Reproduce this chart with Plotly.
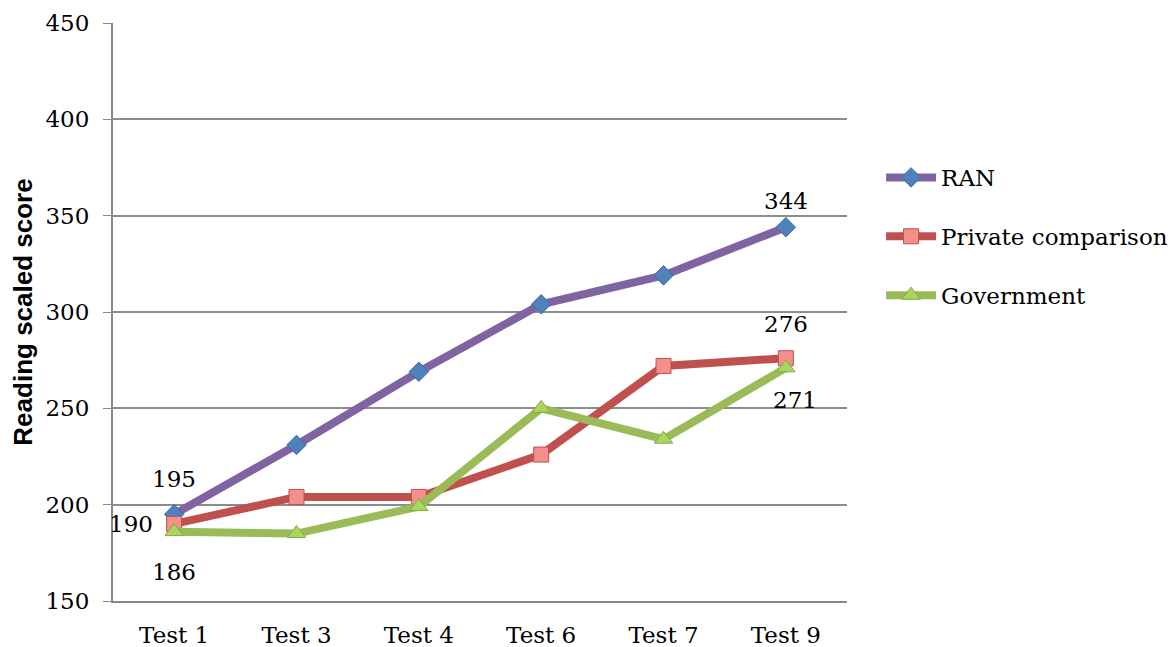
import plotly.graph_objects as go

tests = ["Test 1", "Test 3", "Test 4", "Test 6", "Test 7", "Test 9"]
ran = [195, 231, 269, 304, 319, 344]
private = [190, 204, 204, 226, 272, 276]
government = [186, 185, 199, 250, 234, 271]

serif = "DejaVu Serif, serif"

fig = go.Figure()
fig.add_trace(
    go.Scatter(
        x=tests, y=ran, name="RAN", legendgroup="ran",
        mode="lines+markers",
        line={"color": "#8064A2", "width": 8},
        marker={"symbol": "diamond", "size": 15, "color": "#4F81BD",
                "line": {"color": "#3A6AA8", "width": 1}},
    )
)
fig.add_trace(
    go.Scatter(
        x=tests, y=private, name="Private comparison", legendgroup="private",
        mode="lines+markers",
        line={"color": "#C0504D", "width": 8},
        marker={"symbol": "square", "size": 15, "color": "#F2908D",
                "line": {"color": "#C0504D", "width": 1}},
    )
)
fig.add_trace(
    go.Scatter(
        x=tests, y=government, name="Government", legendgroup="gov",
        mode="lines+markers",
        line={"color": "#9BBB59", "width": 8},
        marker={"symbol": "triangle-up", "size": 16, "color": "#A9D65E",
                "line": {"color": "#86A845", "width": 1}},
    )
)

# data labels on the first and last points of each series
labels = [
    (tests[0], ran[0], 0, 35),
    (tests[-1], ran[-1], 0, 26),
    (tests[0], private[0], -43, 0),
    (tests[-1], private[-1], 0, 34),
    (tests[0], government[0], 0, -40),
    (tests[-1], government[-1], 9, -32),
]
for x, y, dx, dy in labels:
    fig.add_annotation(
        x=x, y=y, text=str(y), showarrow=False, xshift=dx, yshift=dy,
        font={"family": serif, "size": 23, "color": "#000"},
    )

fig.update_layout(
    width=1176,
    height=647,
    paper_bgcolor="white",
    plot_bgcolor="white",
    margin={"l": 105, "r": 336, "t": 15, "b": 54},
    font={"family": serif, "size": 23, "color": "#000"},
    legend={
        "x": 1.045, "y": 0.77, "xanchor": "left", "yanchor": "top",
        "font": {"family": serif, "size": 23},
        "itemwidth": 50, "tracegroupgap": 26,
    },
    showlegend=True,
)
fig.update_xaxes(
    range=[-0.5, len(tests) - 0.5],
    showline=True, linecolor="#888", linewidth=2,
    showgrid=False, ticks="", tickfont={"size": 23},
    ticklabelstandoff=12, automargin=False,
)
fig.update_yaxes(
    range=[150, 450], dtick=50,
    showgrid=True, gridcolor="#8c8c8c", gridwidth=2,
    showline=True, linecolor="#888", linewidth=2,
    ticks="outside", ticklen=8, tickcolor="#888",
    tickfont={"size": 23}, ticklabelstandoff=9,
    title={"text": "<b>Reading scaled score</b>", "standoff": 6,
           "font": {"family": "Liberation Sans, Arial, sans-serif", "size": 26}},
    zeroline=False, automargin=False,
)

fig.write_html("out.html")
